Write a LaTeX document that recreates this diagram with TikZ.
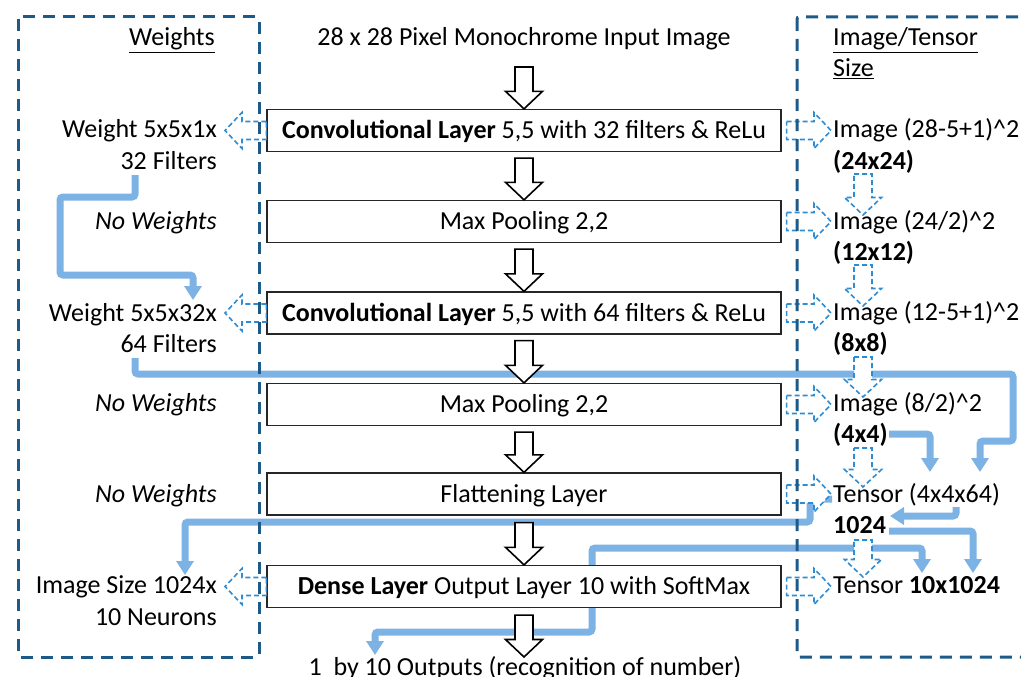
\documentclass[tikz,border=0pt]{standalone}
\usepackage{fontspec}
\setmainfont{Carlito}
\usetikzlibrary{calc,arrows.meta}
\pgfdeclarelayer{bg}
\pgfsetlayers{bg,main}
\definecolor{framec}{HTML}{1E5A88}
\definecolor{flowc}{HTML}{7DB2E4}
\definecolor{dflowc}{HTML}{2E8CD2}
\newcommand\bigfont{\fontsize{26}{31}\selectfont}
\tikzset{
  lab/.style={font=\bigfont, inner sep=0pt},
  layer/.style={draw=black!85, line width=1.3pt, fill=white, minimum width=514pt,
    minimum height=42pt, font=\bigfont, text height=20pt, text depth=4pt, inner sep=0pt},
  grpframe/.style={draw=framec, line width=3pt, dash pattern=on 12pt off 8pt, rounded corners=2pt},
  flowline/.style={draw=flowc, line width=7pt, rounded corners=3pt, -{Triangle[width=17pt,length=14pt]}},
  hollow/.style={draw=black, line width=1.6pt, fill=white, line join=miter},
  dhollow/.style={draw=dflowc, line width=1.6pt, fill=white, dash pattern=on 5pt off 3pt},
  hdown/.style={to path={let \p1=(\tikztostart),\p2=(\tikztotarget) in
    (\x1-9pt,\y1) -- (\x1+9pt,\y1) -- (\x1+9pt,\y2+17.5pt) -- (\x1+18.5pt,\y2+17.5pt) -- (\x1,\y2)
    -- (\x1-18.5pt,\y2+17.5pt) -- (\x1-9pt,\y2+17.5pt) -- cycle}},
  hleft/.style={to path={let \p1=(\tikztostart),\p2=(\tikztotarget) in
    (\x1,\y1+9pt) -- (\x2+17pt,\y1+9pt) -- (\x2+17pt,\y1+18pt) -- (\x2,\y1)
    -- (\x2+17pt,\y1-18pt) -- (\x2+17pt,\y1-9pt) -- (\x1,\y1-9pt) -- cycle}},
  hright/.style={to path={let \p1=(\tikztostart),\p2=(\tikztotarget) in
    (\x1,\y1+9pt) -- (\x2-17pt,\y1+9pt) -- (\x2-17pt,\y1+18pt) -- (\x2,\y1)
    -- (\x2-17pt,\y1-18pt) -- (\x2-17pt,\y1-9pt) -- (\x1,\y1-9pt) -- cycle}},
}
\begin{document}
\begin{tikzpicture}[x=1pt,y=-1pt]
\useasboundingbox (0,0) rectangle (1021,677);
\clip (0,0) rectangle (1021,677);

% central layers
\node[lab, anchor=base] (title) at (524,46) {28 x 28 Pixel Monochrome Input Image};
\node[layer] (b1) at (524,130.5) {\textbf{Convolutional Layer} 5,5 with 32 filters \& ReLu};
\node[layer] (b2) at (524,221.5) {Max Pooling 2,2};
\node[layer] (b3) at (524,313) {\textbf{Convolutional Layer} 5,5 with 64 filters \& ReLu};
\node[layer] (b4) at (524,404.5) {Max Pooling 2,2};
\node[layer] (b5) at (524,494) {Flattening Layer};
\node[layer] (b6) at (524,586.5) {\textbf{Dense Layer} Output Layer 10 with SoftMax};
\node[lab, anchor=base] (out) at (525,675) {1\ \ by 10 Outputs (recognition of number)};

% left labels
\node[lab, anchor=base east] (whead) at (215,46) {\underline{Weights}};
\node[lab, anchor=base east] (w1) at (217,138) {Weight 5x5x1x};
\node[lab, anchor=base east] (f1) at (217,169) {32 Filters};
\node[lab, anchor=base east] (nw1) at (217,229) {\textit{No Weights}};
\node[lab, anchor=base east] (w2) at (217,321) {Weight 5x5x32x};
\node[lab, anchor=base east] (f2) at (217,352) {64 Filters};
\node[lab, anchor=base east] (nw2) at (217,411) {\textit{No Weights}};
\node[lab, anchor=base east] (nw3) at (217,502) {\textit{No Weights}};
\node[lab, anchor=base east] (w3) at (217,593) {Image Size 1024x};
\node[lab, anchor=base east] (f3) at (217,625) {10 Neurons};

% right labels
\node[lab, anchor=base west] (thead) at (833,46) {\underline{Image/Tensor}};
\node[lab, anchor=base west] (thead2) at (833,77) {\underline{Size}};
\node[lab, anchor=base west] (r1) at (833,138) {Image (28-5+1)\textasciicircum 2};
\node[lab, anchor=base west] (s1) at (833,169) {\textbf{(24x24)}};
\node[lab, anchor=base west] (r2) at (833,229) {Image (24/2)\textasciicircum 2};
\node[lab, anchor=base west] (s2) at (833,260) {\textbf{(12x12)}};
\node[lab, anchor=base west] (r3) at (833,320) {Image (12-5+1)\textasciicircum 2};
\node[lab, anchor=base west] (s3) at (833,351) {\textbf{(8x8)}};
\node[lab, anchor=base west] (r4) at (833,411) {Image (8/2)\textasciicircum 2};
\node[lab, anchor=base west] (s4) at (833,442) {\textbf{(4x4)}};
\node[lab, anchor=base west] (r5) at (833,502) {Tensor (4x4x64)};
\node[lab, anchor=base west] (s5) at (833,533) {\textbf{1024}};
\node[lab, anchor=base west] (r6) at (833,593) {Tensor \textbf{10x1024}};

% black hollow arrows
\draw[hollow] ($(title.base)+(0,21)$) to[hdown] (b1.north);
\draw[hollow] ($(b1.south)+(0,6)$) to[hdown] (b2.north);
\draw[hollow] ($(b2.south)+(0,6)$) to[hdown] (b3.north);
\draw[hollow] ($(b3.south)+(0,6)$) to[hdown] (b4.north);
\draw[hollow] ($(b4.south)+(0,6)$) to[hdown] (b5.north);
\draw[hollow] ($(b5.south)+(0,7)$) to[hdown] (b6.north);
\draw[hollow] ($(b6.south)+(0,7)$) to[hdown] ($(out.base)+(0,-18)$);

% dashed hollow arrows, left
\draw[dhollow] (b1.west) to[hleft] ($(w1.base east)+(8,0)$);
\draw[dhollow] (b3.west) to[hleft] ($(w2.base east)+(8,0)$);
\draw[dhollow] (b6.west) to[hleft] ($(w3.base east)+(8,0)$);
% dashed hollow arrows, right
\draw[dhollow] ($(b1.east)+(5,0)$) to[hright] ($(r1.base west)+(-2,0)$);
\draw[dhollow] ($(b2.east)+(5,0)$) to[hright] ($(r2.base west)+(-2,0)$);
\draw[dhollow] ($(b3.east)+(5,0)$) to[hright] ($(r3.base west)+(-2,0)$);
\draw[dhollow] ($(b4.east)+(5,0)$) to[hright] ($(r4.base west)+(-2,0)$);
\draw[dhollow] ($(b5.east)+(5,0)$) to[hright] ($(r5.base west)+(-2,0)$);
\draw[dhollow] ($(b6.east)+(5,0)$) to[hright] ($(r6.base west)+(-2,0)$);
% dashed hollow arrows, vertical
\coordinate (vx) at (863,0);
\draw[dhollow] ($(s1.base -| vx)+(0,5)$) to[hdown] ($(r2.base -| vx)+(0,-14)$);
\draw[dhollow] ($(s2.base -| vx)+(0,5)$) to[hdown] ($(r3.base -| vx)+(0,-14)$);
\draw[dhollow] ($(s3.base -| vx)+(0,6)$) to[hdown] ($(r4.base -| vx)+(0,-14)$);
\draw[dhollow] ($(s4.base -| vx)+(0,6)$) to[hdown] ($(r5.base -| vx)+(0,-15)$);
\draw[dhollow] ($(s5.base -| vx)+(0,7)$) to[hdown] ($(r6.base -| vx)+(0,-16)$);

% light blue flow lines
\coordinate (l1s) at (135,175);  \coordinate (l1e) at (193,300);
\coordinate (l2s) at (135,358);  \coordinate (l2e) at (980,472);
\coordinate (l3s) at (889,434);  \coordinate (l3e) at (930,472);
\coordinate (l4s) at (832,499);  \coordinate (l4e) at (185,575);
\coordinate (l5s) at (956,507);  \coordinate (l5e) at (890,516);
\coordinate (l6s) at (889,531);  \coordinate (l6e) at (973,573);
\coordinate (l7s) at (375,655);  \coordinate (l7e) at (922,573);
\begin{pgfonlayer}{bg}
\draw[flowline] (l1s) -- (135,197) -- (60,197) -- (60,275) -- (193,275) -- (l1e);
\draw[flowline] (l2s) -- (135,374) -- (1013,374) -- (1013,441) -- (980,441) -- (l2e);
\draw[flowline] (l3s) -- (930,434) -- (l3e);
\draw[flowline] (l4s) -- (810,499) -- (810,522) -- (185,522) -- (l4e);
\draw[flowline] (l5s) -- (956,516) -- (l5e);
\draw[flowline] (l6s) -- (973,531) -- (l6e);
\draw[flowline, {Triangle[width=17pt,length=14pt]}-{Triangle[width=17pt,length=14pt]}] (l7s) -- (375,632) -- (592,632) -- (592,548) -- (922,548) -- (l7e);
\end{pgfonlayer}

% dashed group frames
\draw[grpframe] (18,17) rectangle (259,657);
\draw[grpframe] (797,17) rectangle (1040,657);
\end{tikzpicture}
\end{document}
